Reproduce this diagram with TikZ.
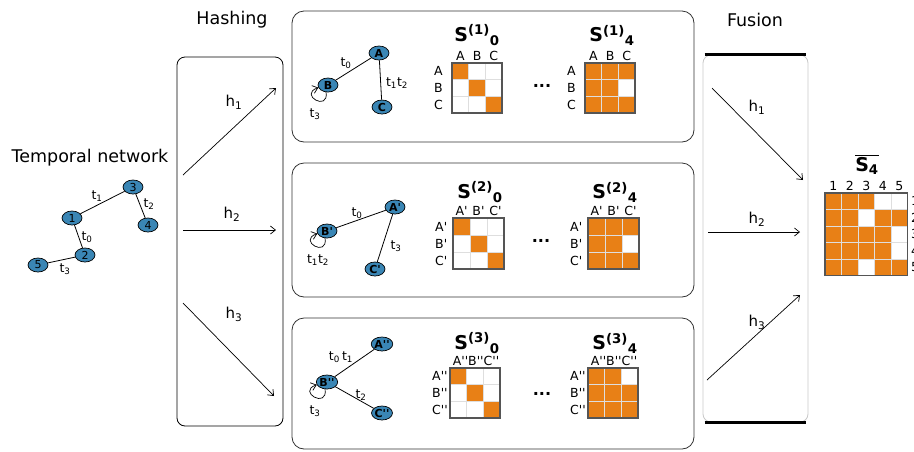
\documentclass[tikz,border=0pt]{standalone}
\usepackage{fontspec}
\setmainfont{DejaVu Sans}[Ligatures=TeXOff]
\usetikzlibrary{shapes.geometric,arrows.meta}
\definecolor{nodeblue}{RGB}{58,134,181}
\definecolor{orng}{RGB}{232,128,22}
\definecolor{gridgray}{RGB}{222,222,222}
\definecolor{bordergray}{RGB}{85,85,85}
\definecolor{panelgray}{RGB}{50,50,50}
\definecolor{sidegray}{RGB}{200,200,200}
\tikzset{
  vert/.style={ellipse, draw=black, line width=0.7pt, fill=nodeblue, minimum width=20pt, minimum height=14pt, inner sep=0pt, font=\fontsize{11}{11}\selectfont},
  bvert/.style={vert, font=\fontsize{11}{11}\selectfont\bfseries},
  elbl/.style={font=\fontsize{12.5}{13}\selectfont, inner sep=0pt},
  hlbl/.style={font=\fontsize{15}{15}\selectfont, inner sep=0pt},
  mlbl/.style={font=\fontsize{12.5}{13}\selectfont, inner sep=0pt},
  ttl/.style={font=\fontsize{19}{19}\selectfont\bfseries, inner sep=0pt},
  head/.style={font=\fontsize{17.5}{18}\selectfont, inner sep=0pt},
  arr/.style={-{Straight Barb[length=5pt,width=8pt]}, line width=0.7pt},
  edgeline/.style={line width=0.8pt},
  panelbox/.style={draw=panelgray, line width=0.8pt, rounded corners=12pt},
}
\newcommand\drawmat[5]{%
  \foreach \rr/\cc in {#5}{\fill[orng] ({#1+(\cc-1)*#3},{#2+(\rr-1)*#3}) rectangle ++(#3,#3);}
  \foreach \kk in {1,...,#4}{
    \draw[gridgray,line width=0.9pt] ({#1+\kk*#3},#2) -- ++(0,{#4*#3});
    \draw[gridgray,line width=0.9pt] (#1,{#2+\kk*#3}) -- ++({#4*#3},0);}
  \draw[bordergray,line width=1.3pt] (#1,#2) rectangle ++({#4*#3},{#4*#3});
}
\newcommand\matrows[5]{%
  \foreach \ll [count=\ii] in {#5}{
    \node[mlbl, anchor=west] (#1r\ii) at ({#2-18},{#3+(\ii-0.5)*#4}) {\ll};}
}
\newcommand\matcols[5]{%
  \foreach \ll [count=\ii] in {#5}{
    \node[mlbl, anchor=base] (#1c\ii) at ({#2+(\ii-0.5)*#4},{#3-2.5}) {\ll};}
}
\newcommand\Sttl[2]{S\textsuperscript{(#1)}\textsubscript{#2}}
\begin{document}
\begin{tikzpicture}[x=1pt,y=-1pt]
\useasboundingbox (0,0) rectangle (914,451);

% ---------- temporal network ----------
\node[head] (tnlbl) at (90,158) {Temporal network};
\node[vert] (n3) at (133,187) {3};
\node[vert] (n1) at (72,218) {1};
\node[vert] (n4) at (148,225) {4};
\node[vert] (n2) at (85,255) {2};
\node[vert] (n5) at (38,265) {5};
\draw[edgeline] (n1) -- (n3);
\draw[edgeline] (n3) -- (n4);
\draw[edgeline] (n1) -- (n2);
\draw[edgeline] (n2) -- (n5);
\node[elbl] (tn1) at (97,196) {t\textsubscript{1}};
\node[elbl] (tn2) at (149,204) {t\textsubscript{2}};
\node[elbl] (tn0) at (87,237) {t\textsubscript{0}};
\node[elbl] (tn3) at (65,269) {t\textsubscript{3}};

% ---------- hashing ----------
\node[head] (hashlbl) at (232,20) {Hashing};
\node[draw, line width=0.8pt, rounded corners=8pt, minimum width=106pt, minimum height=369pt, inner sep=0pt] (hashbox) at (230,241.5) {};
\coordinate (ha1) at (183,175); \coordinate (hb1) at (276,88);
\coordinate (ha2) at (183,230); \coordinate (hb2) at (276,230);
\coordinate (ha3) at (183,303); \coordinate (hb3) at (274,396);
\draw[arr] (ha1) -- (hb1);
\draw[arr] (ha2) -- (hb2);
\draw[arr] (ha3) -- (hb3);
\node[hlbl] (hh1) at (234,102) {h\textsubscript{1}};
\node[hlbl] (hh2) at (232,214) {h\textsubscript{2}};
\node[hlbl] (hh3) at (234,314) {h\textsubscript{3}};

% ---------- panels ----------
\draw[panelbox] (292,11) rectangle (694,142);
\draw[panelbox] (292,163) rectangle (694,297);
\draw[panelbox] (292,318) rectangle (694,449);

% panel 1
\node[bvert] (A1) at (379,53) {A};
\node[bvert] (B1) at (328,85) {B};
\node[bvert] (C1) at (382,107) {C};
\draw[edgeline] (B1) -- (A1);
\draw[edgeline] (A1) -- (C1);
\draw[arr] (B1.255) .. controls +(3,20) and +(-20,7) .. (B1.195);
\node[elbl] (l1a) at (346,63) {t\textsubscript{0}};
\node[elbl] (l1b) at (397,83) {t\textsubscript{1}t\textsubscript{2}};
\node[elbl] (l1c) at (315,114) {t\textsubscript{3}};
\node[ttl] (s10) at (477,35) {\Sttl{1}{0}};
\node[ttl] (s14) at (612,35) {\Sttl{1}{4}};
\drawmat{452}{63}{16.7}{3}{1/1,2/2,3/3}
\drawmat{585}{63}{16.7}{3}{1/1,1/2,1/3,2/1,2/2,3/1,3/2,3/3}
\matcols{ma}{452}{63}{16.7}{A,B,C}
\matrows{ma}{452}{63}{16.7}{A,B,C}
\matcols{mb}{585}{63}{16.7}{A,B,C}
\matrows{mb}{585}{63}{16.7}{A,B,C}
\node[font=\fontsize{16}{16}\selectfont\bfseries] (d1) at (542,86) {...};

% panel 2
\node[bvert] (A2) at (395,207) {A'};
\node[bvert] (B2) at (327,231) {B'};
\node[bvert] (C2) at (375,269) {C'};
\draw[edgeline] (B2) -- (A2);
\draw[edgeline] (A2) -- (C2);
\draw[arr] (B2.255) .. controls +(3,20) and +(-20,7) .. (B2.195);
\node[elbl] (l2a) at (357,213) {t\textsubscript{0}};
\node[elbl] (l2b) at (396,246) {t\textsubscript{3}};
\node[elbl] (l2c) at (318,260) {t\textsubscript{1}t\textsubscript{2}};
\node[ttl] (s20) at (480,192) {\Sttl{2}{0}};
\node[ttl] (s24) at (615,192) {\Sttl{2}{4}};
\drawmat{453}{218}{17}{3}{1/1,2/2,3/3}
\drawmat{588}{218}{17}{3}{1/1,1/2,1/3,2/1,2/2,3/1,3/2,3/3}
\matcols{mc}{453}{218}{17}{A',B',C'}
\matrows{mc}{453}{218}{17}{A',B',C'}
\matcols{md}{588}{218}{17}{A',B',C'}
\matrows{md}{588}{218}{17}{A',B',C'}
\node[font=\fontsize{16}{16}\selectfont\bfseries] (d2) at (541,241) {...};

% panel 3
\node[bvert] (A3) at (382,344) {A''};
\node[bvert] (B3) at (327,382) {B''};
\node[bvert] (C3) at (382,413) {C''};
\draw[edgeline] (B3) -- (A3);
\draw[edgeline] (B3) -- (C3);
\draw[arr] (B3.255) .. controls +(3,20) and +(-20,7) .. (B3.195);
\node[elbl] (l3a) at (341,357) {t\textsubscript{0}\,t\textsubscript{1}};
\node[elbl] (l3b) at (361,395) {t\textsubscript{2}};
\node[elbl] (l3c) at (315,411) {t\textsubscript{3}};
\node[ttl] (s30) at (477,343) {\Sttl{3}{0}};
\node[ttl] (s34) at (615,343) {\Sttl{3}{4}};
\drawmat{450}{368}{16.7}{3}{1/1,2/2,3/3}
\drawmat{588}{368}{16.7}{3}{1/1,1/2,2/1,2/2,2/3,3/1,3/2,3/3}
\node[mlbl, anchor=base] (mec) at (476,365.5) {A''B''C''};
\matrows{me}{450}{368}{16.7}{A'',B'',C''}
\node[mlbl, anchor=base] (mfc) at (614,365.5) {A''B''C''};
\matrows{mf}{588}{368}{16.7}{A'',B'',C''}
\node[font=\fontsize{16}{16}\selectfont\bfseries] (d3) at (542,394) {...};

% ---------- fusion ----------
\node[head] (fuslbl) at (755,20) {Fusion};
\node[draw=sidegray, line width=0.8pt, rounded corners=8pt, minimum width=105pt, minimum height=367pt, inner sep=0pt] (fusbox) at (755.5,238.5) {};
\draw[line width=2.6pt] (fusbox.north west) ++(2,0) -- ([xshift=-2pt]fusbox.north east);
\draw[line width=2.6pt] (fusbox.south west) ++(2,0) -- ([xshift=-2pt]fusbox.south east);
\coordinate (fa1) at (712,88); \coordinate (fb1) at (803,180);
\coordinate (fa2) at (708,232); \coordinate (fb2) at (800,232);
\coordinate (fa3) at (707,380); \coordinate (fb3) at (800,295);
\draw[arr] (fa1) -- (fb1);
\draw[arr] (fa2) -- (fb2);
\draw[arr] (fa3) -- (fb3);
\node[hlbl] (fh1) at (757,107) {h\textsubscript{1}};
\node[hlbl] (fh2) at (757,219) {h\textsubscript{2}};
\node[hlbl] (fh3) at (757,322) {h\textsubscript{3}};

% ---------- S4 bar ----------
\node[ttl] (s4) at (867,165) {$\overline{\hbox{\bfseries S\textsubscript{4}}}$};
\drawmat{825}{193}{16.5}{5}{1/1,1/2,1/3,2/1,2/2,2/4,2/5,3/1,3/2,3/3,3/4,4/1,4/2,4/3,4/4,5/1,5/2,5/4,5/5}
\foreach \ll [count=\ii] in {1,2,3,4,5}{
  \node[mlbl, anchor=base] (sc\ii) at ({825+(\ii-0.5)*16.5},190) {\ll};
  \node[mlbl, anchor=west] (sr\ii) at (911,{193+(\ii-0.5)*16.5}) {\ll};}
\end{tikzpicture}
\end{document}
